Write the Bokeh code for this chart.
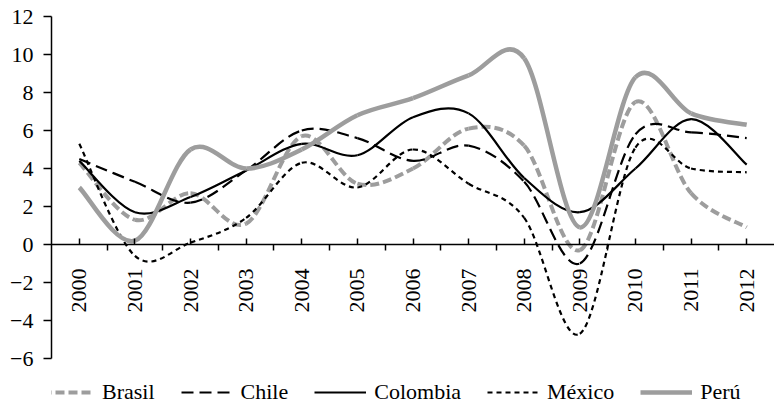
import math
from bokeh.plotting import figure
from bokeh.layouts import column
from bokeh.models import (Range1d, FixedTicker, Legend, LegendItem, ColumnDataSource)
from bokeh.embed import file_html
from bokeh.resources import INLINE

years = [2000, 2001, 2002, 2003, 2004, 2005, 2006, 2007, 2008, 2009, 2010, 2011, 2012]
brasil   = [4.3, 1.3, 2.7, 1.1, 5.7, 3.2, 4.0, 6.1, 5.2, -0.3, 7.5, 2.7, 0.9]
chile    = [4.5, 3.3, 2.2, 3.9, 6.0, 5.6, 4.4, 5.2, 3.3, -1.0, 5.8, 5.9, 5.6]
colombia = [4.4, 1.7, 2.5, 3.9, 5.3, 4.7, 6.7, 6.9, 3.5, 1.7, 4.0, 6.6, 4.2]
mexico   = [5.3, -0.6, 0.1, 1.4, 4.3, 3.0, 5.0, 3.2, 1.4, -4.7, 5.1, 4.0, 3.8]
peru     = [3.0, 0.2, 5.0, 4.0, 5.0, 6.8, 7.7, 8.9, 9.8, 0.9, 8.8, 6.9, 6.3]
y_ticks = [-6, -4, -2, 0, 2, 4, 6, 8, 10, 12]

FONT = "Liberation Serif"
FS = "22px"
GRAY = "#9D9D9D"


def smooth_source(xs, ys):
    """Excel-style smoothed line: cubic Bezier segments between data points."""
    n = len(xs)
    d = dict(x0=[], y0=[], x1=[], y1=[], cx0=[], cy0=[], cx1=[], cy1=[])
    for i in range(n - 1):
        pm = i - 1 if i > 0 else 0
        pp = i + 2 if i + 2 < n else n - 1
        d["x0"].append(xs[i]); d["y0"].append(ys[i])
        d["x1"].append(xs[i + 1]); d["y1"].append(ys[i + 1])
        d["cx0"].append(xs[i] + (xs[i + 1] - xs[pm]) / 6.0)
        d["cy0"].append(ys[i] + (ys[i + 1] - ys[pm]) / 6.0)
        d["cx1"].append(xs[i + 1] - (xs[pp] - xs[i]) / 6.0)
        d["cy1"].append(ys[i + 1] - (ys[pp] - ys[i]) / 6.0)
    return ColumnDataSource(d)


p = figure(width=774, height=380, output_backend="svg", toolbar_location=None,
           x_range=Range1d(1999.5, 2012.5), y_range=Range1d(-6, 12),
           min_border_left=51, min_border_right=0, min_border_top=16,
           min_border_bottom=22)
p.outline_line_color = None
p.xgrid.visible = False
p.ygrid.visible = False
p.background_fill_color = "white"

series = [
    ("Brasil", brasil, dict(line_color=GRAY, line_width=4, line_dash="9 4")),
    ("Chile", chile, dict(line_color="black", line_width=2.2, line_dash="12 6")),
    ("Colombia", colombia, dict(line_color="black", line_width=2.2)),
    ("México", mexico, dict(line_color="black", line_width=2.2, line_dash="5 4")),
    ("Perú", peru, dict(line_color=GRAY, line_width=4.5)),
]

# legend strip (separate small figure under the chart); its view range
# lies away from the data so only the legend keys show
lg = figure(width=774, height=25, output_backend="svg", toolbar_location=None,
            x_range=Range1d(0, 1), y_range=Range1d(0, 1),
            x_axis_type=None, y_axis_type=None,
            min_border_left=0, min_border_right=0, min_border_top=0,
            min_border_bottom=0)
lg.outline_line_color = None
lg.xgrid.visible = False
lg.ygrid.visible = False

items = []
for name, vals, style in series:
    src = smooth_source(years, vals)
    p.bezier(x0="x0", y0="y0", x1="x1", y1="y1", cx0="cx0", cy0="cy0",
             cx1="cx1", cy1="cy1", source=src, **style)
    lr = lg.line(x=years, y=vals, **style)
    items.append(LegendItem(label=name, renderers=[lr]))

xa = p.xaxis[0]
xa.fixed_location = 0
xa.ticker = FixedTicker(ticks=years, minor_ticks=[y + 0.5 for y in years[:-1]])
xa.major_label_orientation = math.pi / 2
xa.major_tick_in = 6
xa.major_tick_out = 0
xa.minor_tick_in = 0
xa.minor_tick_out = 6
xa.major_label_standoff = 18
xa.axis_line_width = 1.5
xa.major_tick_line_width = 1.5
xa.minor_tick_line_width = 1.5
xa.axis_line_color = "black"
xa.major_label_text_font = FONT
xa.major_label_text_font_size = FS
xa.major_label_text_color = "black"

ya = p.yaxis[0]
ya.ticker = FixedTicker(ticks=y_ticks)
ya.major_label_overrides = {t: (str(t).replace("-", "\u2212")) for t in y_ticks}
ya.major_tick_in = 0
ya.major_tick_out = 8
ya.minor_tick_out = 0
ya.minor_tick_in = 0
ya.major_label_standoff = 10
ya.axis_line_width = 1.5
ya.major_tick_line_width = 1.5
ya.major_label_text_font = FONT
ya.major_label_text_font_size = FS
ya.major_label_text_color = "black"

legend = Legend(items=items, orientation="horizontal", location=(-9, 0),
                label_text_font=FONT, label_text_font_size=FS,
                label_text_color="black",
                glyph_width=52, glyph_height=20, label_standoff=8, spacing=26,
                padding=0, margin=0, border_line_color=None,
                background_fill_alpha=0)
lg.add_layout(legend, "center")

layout = column(p, lg, spacing=0)
open("out.html", "w").write(file_html(layout, INLINE))
